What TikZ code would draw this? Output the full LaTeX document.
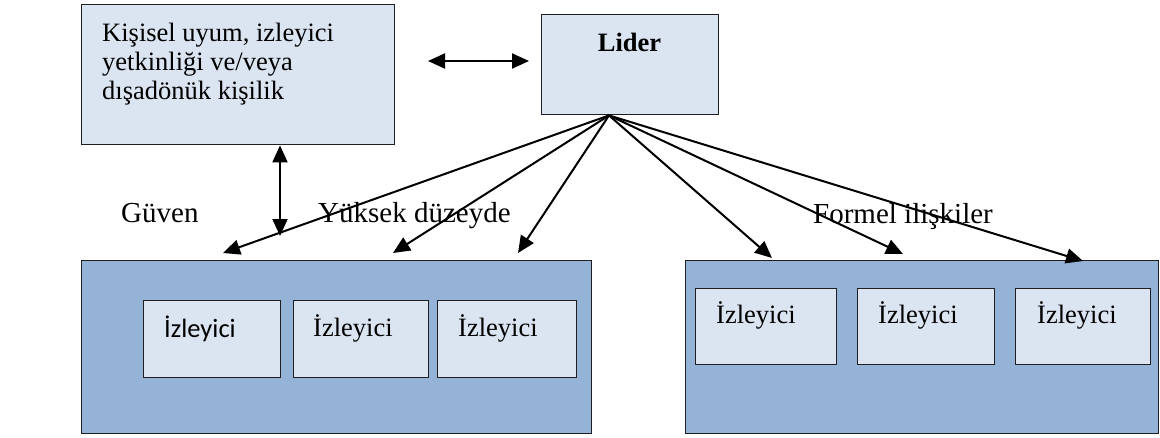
\documentclass[tikz,border=0pt]{standalone}
\usepackage{fontspec}
\setmainfont{Liberation Serif}
\newfontfamily\bodysans{Carlito}
\usetikzlibrary{arrows.meta,calc}
\definecolor{boxlight}{HTML}{DBE4F1}
\definecolor{boxgroup}{HTML}{95B3D7}
\definecolor{edge}{HTML}{1F1F1F}
\begin{document}
\begin{tikzpicture}[x=1pt,y=-1pt,
  panel/.style={draw=edge, line width=1.4pt, anchor=north west, inner sep=0pt},
  lightbox/.style={panel, fill=boxlight},
  groupbox/.style={panel, fill=boxgroup},
  lbl/.style={anchor=base west, inner sep=0pt, font=\fontsize{26.5}{29}\selectfont},
  rel/.style={lbl, font=\fontsize{29}{32}\selectfont},
  tipshape/.tip={Triangle[length=17pt,width=15pt]},
  link/.style={line width=2pt, -tipshape},
  twoway/.style={line width=2pt, tipshape-tipshape}
]
\useasboundingbox (0,0) rectangle (1160,437);

% upper boxes
\node[lightbox, minimum width=313pt, minimum height=140pt] (traits) at (81,4) {};
\node[lightbox, minimum width=177pt, minimum height=100pt] (lider) at (541,14) {};
\node[lbl] (t1) at (102,41.5) {Kişisel uyum, izleyici};
\node[lbl] (t2) at (102,70.5) {yetkinliği ve/veya};
\node[lbl] (t3) at (102,99.5) {dışadönük kişilik};
\node[lbl, anchor=base, font=\fontsize{26.5}{29}\selectfont\bfseries] (lidertext) at (629.5,51) {Lider};

% follower groups
\node[groupbox, minimum width=510pt, minimum height=173pt] (grpA) at (81,260) {};
\node[groupbox, minimum width=473pt, minimum height=173pt] (grpB) at (685,260) {};

\node[lightbox, minimum width=137pt, minimum height=77pt] (a1) at (143,300) {};
\node[lightbox, minimum width=135pt, minimum height=77pt] (a2) at (293,300) {};
\node[lightbox, minimum width=139pt, minimum height=77pt] (a3) at (437,300) {};
\node[lightbox, minimum width=141pt, minimum height=76pt] (b1) at (695,288) {};
\node[lightbox, minimum width=137pt, minimum height=76pt] (b2) at (857,288) {};
\node[lightbox, minimum width=135pt, minimum height=76pt] (b3) at (1015,288) {};

\node[lbl, font=\fontsize{26.5}{29}\selectfont\bodysans] (a1t) at (164,337) {İzleyici};
\node[lbl] (a2t) at (313,336) {İzleyici};
\node[lbl] (a3t) at (458,336) {İzleyici};
\node[lbl] (b1t) at (716,323) {İzleyici};
\node[lbl] (b2t) at (878,323) {İzleyici};
\node[lbl] (b3t) at (1037,323) {İzleyici};

% relation labels
\node[rel] (guven) at (121,222) {Güven};
\node[rel] (yuksek) at (318,222) {Yüksek düzeyde};
\node[rel] (formel) at (813,223) {Formel ilişkiler};

% connector end points
\coordinate (fan) at ($(lider.south west)+(68,0)$);
\coordinate (pA1) at ($(grpA.north west)+(142,-7)$);
\coordinate (pA2) at ($(grpA.north west)+(312,-7)$);
\coordinate (pA3) at ($(grpA.north west)+(437,-7)$);
\coordinate (pB1) at ($(grpB.north west)+(87,-2)$);
\coordinate (pB2) at ($(grpB.north west)+(218,-6)$);
\coordinate (pB3) at ($(grpB.north west)+(398,1)$);
\coordinate (trustTop) at ($(traits.south west)+(199,0)$);
\coordinate (trustBot) at (280,236);
\coordinate (linkL) at (428,61);
\coordinate (linkR) at (529,61);

% connectors
\draw[twoway] (linkL) -- (linkR);
\draw[twoway] (trustTop) -- (trustBot);
\foreach \p in {pA1,pA2,pA3,pB1,pB2,pB3}
  \draw[link] (fan) -- (\p);
\end{tikzpicture}
\end{document}
